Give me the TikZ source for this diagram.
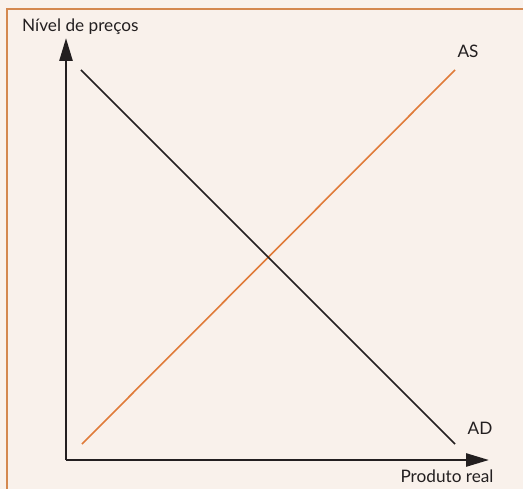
\documentclass[tikz,border=0pt]{standalone}
\usepackage{fontspec}
\setmainfont{Lato}
\usetikzlibrary{arrows.meta}
\definecolor{bgcream}{HTML}{F9F1EB}
\definecolor{frameorange}{HTML}{D4884F}
\definecolor{asorange}{HTML}{E07B39}
\definecolor{axisdark}{HTML}{231F20}
\tikzset{
  axisline/.style={draw=axisdark, line width=2.6bp, -{Triangle[length=23bp,width=13bp]}},
  adline/.style={draw=axisdark, line width=1.6bp},
  asline/.style={draw=asorange, line width=1.6bp},
  lbl/.style={font=\fontsize{17.2bp}{20bp}\selectfont, text=axisdark, inner sep=0pt},
}
\begin{document}
\begin{tikzpicture}[x=1bp,y=-1bp]
\useasboundingbox (0,0) rectangle (523,489);
\fill[bgcream] (0,0) rectangle (523,489);
\draw[frameorange, line width=2bp] (7,489) -- (7,9) -- (523,9);
% axes
\coordinate (O) at (66,460);
\coordinate (ytip) at (66,38);
\coordinate (xtip) at (489,460);
\draw[axisline] (O) -- (ytip);
\draw[axisline] (O) -- (xtip);
% curves
\coordinate (as0) at (82,444);
\coordinate (as1) at (455,70);
\coordinate (ad0) at (81,70);
\coordinate (ad1) at (455,444);
\draw[asline] (as0) -- (as1);
\draw[adline] (ad0) -- (ad1);
% labels
\node[lbl, anchor=base west] (ylab) at (22,31.5) {Nível de preços};
\node[lbl] (aslab) at (468,51) {AS};
\node[lbl] (adlab) at (480,428) {AD};
\node[lbl, anchor=base] (xlab) at (447,482) {Produto real};
\end{tikzpicture}
\end{document}
